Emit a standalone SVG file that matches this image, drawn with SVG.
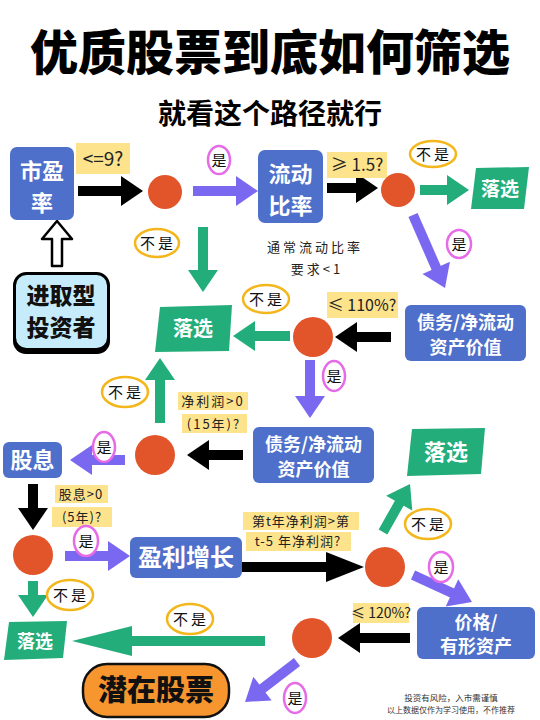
<svg xmlns="http://www.w3.org/2000/svg" width="540" height="720" viewBox="0 0 540 720">
<style>
.cjk{font-family:"Noto Sans CJK SC","Noto Sans",sans-serif}
.box{fill:#4e6fca}
.bt{font-family:"Noto Sans CJK SC",sans-serif;font-weight:700;fill:#fff;text-anchor:middle}
.drop{fill:#22ad7a}
.dot{fill:#e2542a}
.lab{fill:#fde38c}
.lt{font-family:"Noto Sans CJK SC",sans-serif;fill:#222;text-anchor:middle}
.yes{fill:#fff;stroke:#e66be6;stroke-width:2.5}
.no{fill:#fff;stroke:#f3b71c;stroke-width:2.5}
.yn{font-family:"Noto Sans CJK SC",sans-serif;font-size:15px;fill:#111;text-anchor:middle}
.ab{stroke:#000;stroke-width:10;fill:none}
.ag{stroke:#22ad7a;stroke-width:10;fill:none}
.ap{stroke:#7a68f0;stroke-width:10;fill:none}
</style>
<defs>
<marker id="hb" markerWidth="2.2" markerHeight="3" refX="0.2" refY="1.5" orient="auto" overflow="visible"><path d="M0,0 L2.2,1.5 L0,3 z" fill="#000"/></marker>
<marker id="hbl" markerWidth="3.8" markerHeight="3" refX="0.2" refY="1.5" orient="auto" overflow="visible"><path d="M0,0 L3.8,1.5 L0,3 z" fill="#000"/></marker>
<marker id="hg" markerWidth="2.2" markerHeight="3" refX="0.2" refY="1.5" orient="auto" overflow="visible"><path d="M0,0 L2.2,1.5 L0,3 z" fill="#22ad7a"/></marker>
<marker id="hgl" markerWidth="6" markerHeight="3" refX="0.2" refY="1.5" orient="auto" overflow="visible"><path d="M0,0 L6,1.5 L0,3 z" fill="#22ad7a"/></marker>
<marker id="hp" markerWidth="2.2" markerHeight="3" refX="0.2" refY="1.5" orient="auto" overflow="visible"><path d="M0,0 L2.2,1.5 L0,3 z" fill="#7a68f0"/></marker>
</defs>
<rect width="540" height="720" fill="#fff"/>

<g id="title">
<text x="270" y="70" class="cjk" font-size="48" font-weight="900" text-anchor="middle" fill="#000">优质股票到底如何筛选</text>
<text x="270" y="124" class="cjk" font-size="28" font-weight="700" text-anchor="middle" fill="#000">就看这个路径就行</text>
</g>

<g id="connectors">
<line class="ab" x1="78" y1="191" x2="123" y2="191" marker-end="url(#hb)"/>
<line class="ap" x1="193" y1="191" x2="238" y2="191" marker-end="url(#hp)"/>
<line class="ab" x1="327" y1="188" x2="358" y2="188" marker-end="url(#hb)"/>
<line class="ag" x1="420" y1="190" x2="449" y2="190" marker-end="url(#hg)"/>
<line class="ap" x1="413" y1="215" x2="437" y2="269.7" marker-end="url(#hp)"/>
<line class="ag" x1="203" y1="227" x2="203" y2="272" marker-end="url(#hg)"/>
<line class="ag" x1="290" y1="336" x2="253" y2="336" marker-end="url(#hg)"/>
<line class="ab" x1="391" y1="337" x2="355" y2="337" marker-end="url(#hb)"/>
<line class="ap" x1="310" y1="360" x2="310" y2="398" marker-end="url(#hp)"/>
<line class="ag" x1="160" y1="423" x2="160" y2="378" marker-end="url(#hg)"/>
<line class="ab" x1="243" y1="455" x2="207" y2="455" marker-end="url(#hb)"/>
<line class="ap" x1="125" y1="460" x2="90" y2="460" marker-end="url(#hp)"/>
<line class="ab" x1="33" y1="484" x2="33" y2="510" marker-end="url(#hb)"/>
<line class="ap" x1="65" y1="556" x2="110" y2="556" marker-end="url(#hp)"/>
<line class="ab" x1="241" y1="567" x2="328" y2="567" marker-end="url(#hbl)"/>
<line class="ag" x1="383" y1="532" x2="400.2" y2="501.5" marker-end="url(#hg)"/>
<line class="ap" x1="413" y1="575" x2="453.8" y2="593.7" marker-end="url(#hp)"/>
<line class="ab" x1="410" y1="638" x2="358" y2="638" marker-end="url(#hb)"/>
<line class="ag" x1="265" y1="641" x2="130" y2="641" marker-end="url(#hgl)"/>
<line class="ag" x1="33" y1="581" x2="33" y2="597" marker-end="url(#hg)"/>
<line class="ap" x1="297" y1="662" x2="260.9" y2="689.8" marker-end="url(#hp)"/>
<path d="M52,266 L52,239 L42,239 L57,221 L72,239 L62,239 L62,266 Z" fill="#fff" stroke="#000" stroke-width="2.5" stroke-linejoin="round"/>
</g>

<g id="investor">
<rect x="13" y="276" width="97" height="78" rx="13" fill="#000"/>
<rect x="14.5" y="273.5" width="94" height="76" rx="12" fill="#c6ecfc" stroke="#000" stroke-width="3"/>
<text x="61" y="304" class="cjk" font-size="23" font-weight="900" text-anchor="middle" fill="#111">进取型</text>
<text x="61" y="336" class="cjk" font-size="23" font-weight="900" text-anchor="middle" fill="#111">投资者</text>
</g>

<g id="pe">
<rect class="box" x="10" y="147" width="64" height="73" rx="7"/>
<text class="bt" x="42" y="179" font-size="22">市盈</text>
<text class="bt" x="42" y="211" font-size="22">率</text>
<rect class="lab" x="76" y="143" width="54" height="31"/>
<text class="lt" x="103" y="166" font-size="19">&lt;=9?</text>
</g>

<g id="d1"><circle class="dot" cx="165" cy="192" r="17"/></g>

<g id="current">
<rect class="box" x="258" y="150" width="65" height="73" rx="7"/>
<text class="bt" x="290.5" y="182" font-size="22">流动</text>
<text class="bt" x="290.5" y="214" font-size="22">比率</text>
<rect class="lab" x="327" y="152" width="60" height="26"/>
<text class="lt" x="357" y="171" font-size="17">≥ 1.5?</text>
<text class="lt" x="315" y="252" font-size="13" letter-spacing="3">通常流动比率</text>
<text class="lt" x="317" y="274" font-size="13" letter-spacing="3">要求&lt;1</text>
</g>

<g id="d2"><circle class="dot" cx="398" cy="190" r="17"/></g>

<g id="drop1">
<polygon class="drop" points="476,168 529,167 524,209 471,209"/>
<text class="bt" x="500" y="196" font-size="19">落选</text>
</g>

<g id="drop2">
<polygon class="drop" points="160,307 232,305 229,351 155,352"/>
<text class="bt" x="193" y="336" font-size="20">落选</text>
</g>

<g id="debt1">
<rect class="box" x="405" y="305" width="121" height="56" rx="6"/>
<text class="bt" x="465.5" y="329" font-size="18">债务/净流动</text>
<text class="bt" x="465.5" y="354" font-size="18">资产价值</text>
<rect class="lab" x="327" y="292" width="71" height="26"/>
<text class="lt" x="362" y="311" font-size="16">≤ 110%?</text>
</g>

<g id="d3"><circle class="dot" cx="313" cy="337" r="20"/></g>

<g id="debt2">
<rect class="box" x="253" y="427" width="121" height="56" rx="6"/>
<text class="bt" x="313.5" y="451" font-size="18">债务/净流动</text>
<text class="bt" x="313.5" y="476" font-size="18">资产价值</text>
</g>

<g id="drop3">
<polygon class="drop" points="412,429 485,428 481,474 407,476"/>
<text class="bt" x="446" y="460" font-size="22">落选</text>
</g>

<g id="d4">
<circle class="dot" cx="155" cy="455" r="20"/>
<rect class="lab" x="178" y="392" width="70" height="18"/>
<text class="lt" x="213" y="406" font-size="13" letter-spacing="2">净利润&gt;0</text>
<rect class="lab" x="182" y="414" width="65" height="19"/>
<text class="lt" x="214" y="429" font-size="13" letter-spacing="2">(15年)?</text>
</g>

<g id="dividend">
<rect class="box" x="3" y="442" width="59" height="36" rx="6"/>
<text class="bt" x="32.5" y="468" font-size="22">股息</text>
<rect class="lab" x="55" y="485" width="53" height="18"/>
<text class="lt" x="81" y="499" font-size="13" letter-spacing="1">股息&gt;0</text>
<rect class="lab" x="52" y="507" width="60" height="20"/>
<text class="lt" x="82" y="522" font-size="13" letter-spacing="1">(5年)?</text>
</g>

<g id="d5"><circle class="dot" cx="33" cy="555" r="20"/></g>

<g id="growth">
<rect class="box" x="130" y="537" width="112" height="41" rx="6"/>
<text class="bt" x="186" y="566" font-size="24">盈利增长</text>
<rect class="lab" x="243" y="512" width="116" height="18"/>
<text class="lt" x="301" y="526" font-size="13" letter-spacing="1">第t年净利润&gt;第</text>
<rect class="lab" x="246" y="532" width="105" height="19"/>
<text class="lt" x="298" y="546" font-size="13" letter-spacing="1">t-5 年净利润?</text>
</g>

<g id="d6"><circle class="dot" cx="385" cy="567" r="20"/></g>

<g id="pb">
<rect class="box" x="417" y="607" width="118" height="52" rx="6"/>
<text class="bt" x="476" y="629" font-size="18">价格/</text>
<text class="bt" x="476" y="653" font-size="18">有形资产</text>
<rect class="lab" x="353" y="603" width="56" height="20"/>
<text class="lt" x="381" y="618" font-size="14">≤ 120%?</text>
</g>

<g id="d7"><circle class="dot" cx="312" cy="638" r="20"/></g>

<g id="drop4">
<polygon class="drop" points="9,622 67,621 63,658 4,660"/>
<text class="bt" x="35" y="648" font-size="18">落选</text>
</g>

<g id="potential">
<rect x="83" y="664" width="146" height="53" rx="24" fill="#f7962f" stroke="#111" stroke-width="2.5"/>
<text x="156" y="701" class="cjk" font-size="29" font-weight="900" text-anchor="middle" fill="#111">潜在股票</text>
</g>

<g id="labels">
<ellipse class="yes" cx="219" cy="160" rx="11" ry="14"/><text class="yn" x="219" y="166">是</text>
<ellipse class="no" cx="157" cy="243" rx="22" ry="14"/><text class="yn" x="158" y="249" letter-spacing="3">不是</text>
<ellipse class="no" cx="433" cy="154" rx="23" ry="13"/><text class="yn" x="434" y="160" letter-spacing="3">不是</text>
<ellipse class="yes" cx="459" cy="244" rx="12" ry="14"/><text class="yn" x="459" y="250">是</text>
<ellipse class="no" cx="266" cy="299" rx="23" ry="14"/><text class="yn" x="267" y="305" letter-spacing="3">不是</text>
<ellipse class="yes" cx="334" cy="376" rx="11" ry="15"/><text class="yn" x="334" y="382">是</text>
<ellipse class="no" cx="125" cy="392" rx="23" ry="15"/><text class="yn" x="126" y="398" letter-spacing="3">不是</text>
<ellipse class="yes" cx="104" cy="447" rx="11" ry="15"/><text class="yn" x="104" y="453">是</text>
<ellipse class="yes" cx="86" cy="541" rx="12" ry="15"/><text class="yn" x="86" y="547">是</text>
<ellipse class="no" cx="70" cy="595" rx="23" ry="15"/><text class="yn" x="71" y="601" letter-spacing="3">不是</text>
<ellipse class="no" cx="190" cy="619" rx="23" ry="15"/><text class="yn" x="191" y="625" letter-spacing="3">不是</text>
<ellipse class="no" cx="428" cy="524" rx="23" ry="15"/><text class="yn" x="429" y="530" letter-spacing="3">不是</text>
<ellipse class="yes" cx="441" cy="567" rx="12" ry="15"/><text class="yn" x="441" y="573">是</text>
<ellipse class="yes" cx="295" cy="698" rx="11" ry="15"/><text class="yn" x="295" y="704">是</text>
</g>

<g id="footer">
<text x="451" y="701" class="cjk" font-size="8.5" text-anchor="middle" fill="#333">投资有风险，入市需谨慎</text>
<text x="451" y="713" class="cjk" font-size="8" text-anchor="middle" fill="#333">以上数据仅作为学习使用，不作推荐</text>
</g>
</svg>
